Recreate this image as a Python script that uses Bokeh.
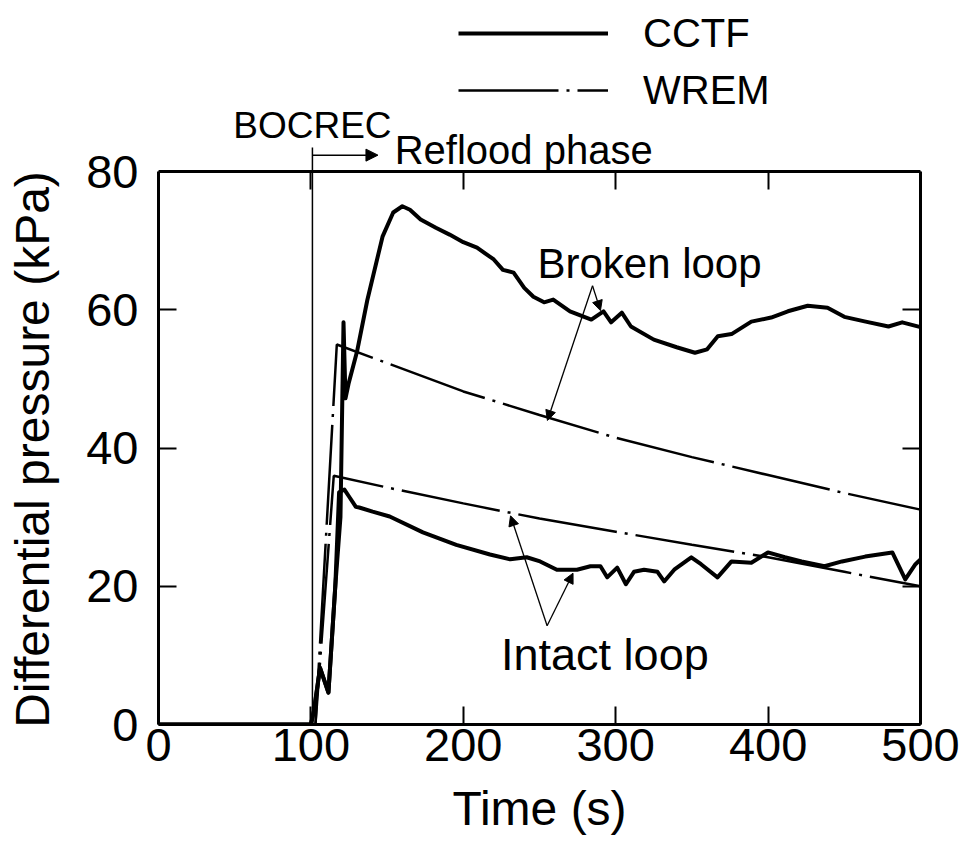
from bokeh.plotting import figure
from bokeh.layouts import row
from bokeh.models import (Range1d, LinearAxis, FixedTicker, Arrow, NormalHead,
                          Label, Legend, LegendItem)
from bokeh.embed import file_html
from bokeh.resources import INLINE

# ---------------- data ----------------
cctf_broken_t = [0, 100, 102, 106, 111.5, 116, 119.4, 121.4, 122.7, 124.7, 130.4, 137, 147,
                 154, 160, 165, 172, 182, 191, 200, 209, 220, 226, 233, 240, 246, 253, 259,
                 270, 284, 292, 297, 304, 310, 325, 340, 352, 360, 367, 376, 389, 402, 413,
                 426, 439, 450, 464, 479, 488, 500]
cctf_broken_v = [0, 0, 2, 8.2, 4.6, 20, 30, 58.2, 47.2, 49.3, 54.1, 61.4, 70.6,
                 74.1, 75.0, 74.5, 73.1, 71.9, 70.9, 69.8, 69.0, 67.3, 65.8, 65.4, 63.2, 61.9,
                 61.1, 61.5, 59.8, 58.6, 59.8, 58.2, 59.6, 57.6, 55.7, 54.6, 53.8, 54.3, 56.2,
                 56.5, 58.3, 58.9, 59.8, 60.6, 60.3, 59.0, 58.3, 57.6, 58.2, 57.5]

cctf_intact_t = [0, 100, 102, 106, 111.5, 116, 118.5, 122, 125, 129.5, 131.7, 140.5, 151.7,
                 173.5, 195.4, 217.5, 230.8, 241.6, 250.4, 261.4, 274.6, 283.4, 290, 294.4,
                 301, 306.7, 312, 318.6, 327.4, 331.8, 338.4, 349.6, 356, 366.8, 376, 389,
                 399.9, 411, 422, 437, 448.5, 463.7, 481.5, 490, 496.7, 500]
cctf_intact_v = [0, 0, 2, 8.2, 4.6, 20, 33.6, 34.0, 33.0, 31.5, 31.4, 30.8, 30.1,
                 27.8, 26.0, 24.6, 23.9, 24.2, 23.6, 22.4, 22.4, 22.9, 22.9, 21.3,
                 22.7, 20.3, 22.1, 22.4, 22.1, 20.7, 22.4, 24.2, 23.2, 21.3, 23.6, 23.4,
                 24.9, 24.2, 23.6, 22.9, 23.6, 24.3, 24.9, 21.0, 23.2, 23.9]

wrem_broken_t = [0, 103, 117, 150, 200, 250, 300, 350, 400, 450, 500]
wrem_broken_v = [0, 0, 55.0, 52.3, 48.2, 44.8, 41.5, 38.7, 36.1, 33.5, 31.1]

wrem_intact_t = [0, 103, 115, 150, 200, 250, 300, 350, 400, 450, 500]
wrem_intact_v = [0, 0, 36.0, 34.3, 32.0, 29.8, 27.9, 26.0, 24.2, 22.1, 20.0]

x_ticks = [0, 100, 200, 300, 400, 500]
y_ticks = [0, 20, 40, 60, 80]
series_names = ["CCTF", "WREM"]
x_min, x_max = 0, 500
y_min, y_max = 0, 80
bocrec_t = 101

FONT = "Liberation Sans"
CCTF_STYLE = dict(line_color="black", line_width=4, line_join="round")
WREM_STYLE = dict(line_color="black", line_width=2.5, line_dash="100 8 3 8")

# ---------------- main figure ----------------
# the frame reaches the top of the page so that the texts above the box are drawn too;
# the visible box itself is 0..80 kPa
p = figure(width=886, height=842, x_range=Range1d(x_min, x_max), y_range=Range1d(0, 104.78),
           output_backend="svg", toolbar_location=None,
           min_border_left=78, min_border_right=46, min_border_top=0, min_border_bottom=118,
           background_fill_color="white", border_fill_color="white")
p.outline_line_color = None
p.xgrid.grid_line_color = None
p.ygrid.grid_line_color = None

def style_axis(ax, labels=True):
    ax.axis_line_width = 3
    ax.axis_line_color = "black"
    ax.major_tick_in = 18
    ax.major_tick_out = 0
    ax.major_tick_line_width = 2
    ax.minor_tick_line_color = None
    if labels:
        ax.major_label_text_font = FONT
        ax.major_label_text_font_size = "47px"
        ax.major_label_text_color = "black"
    else:
        ax.major_label_text_font_size = "1px"
        ax.major_label_text_color = None
        ax.major_label_standoff = 0

xa = p.xaxis[0]
ya = p.yaxis[0]
xa.ticker = FixedTicker(ticks=x_ticks)
ya.ticker = FixedTicker(ticks=y_ticks)
ya.bounds = (y_min, y_max)
style_axis(xa)
style_axis(ya)
xa.major_label_standoff = 4
ya.major_label_standoff = 20
xa.axis_label = "Time (s)"
xa.axis_label_text_font = FONT
xa.axis_label_text_font_size = "48px"
xa.axis_label_text_font_style = "normal"
xa.axis_label_text_color = "black"
xa.axis_label_standoff = 18

top_ax = LinearAxis(ticker=FixedTicker(ticks=x_ticks), fixed_location=y_max)
right_ax = LinearAxis(ticker=FixedTicker(ticks=y_ticks), bounds=(y_min, y_max))
style_axis(top_ax, labels=False)
style_axis(right_ax, labels=False)
p.add_layout(top_ax, "above")
p.add_layout(right_ax, "right")

# curves
r_cb = p.line(cctf_broken_t, cctf_broken_v, **CCTF_STYLE)
r_ci = p.line(cctf_intact_t, cctf_intact_v, **CCTF_STYLE)
r_wb = p.line(wrem_broken_t, wrem_broken_v, **WREM_STYLE)
r_wi = p.line(wrem_intact_t, wrem_intact_v, **WREM_STYLE)

legend = Legend(items=[LegendItem(label=series_names[0], renderers=[r_cb]),
                       LegendItem(label=series_names[1], renderers=[r_wb])],
                location=(300, 611), orientation="vertical",
                glyph_width=150, glyph_height=46, label_height=46, label_standoff=35,
                spacing=11, padding=0, margin=0, border_line_color=None,
                background_fill_alpha=0,
                label_text_font=FONT, label_text_font_size="40px", label_text_color="black")
p.add_layout(legend, "center")

def lbl(fig, x, y, text, size, align="center", angle=0):
    fig.add_layout(Label(x=x, y=y, text=text, text_font=FONT, text_font_size=size,
                         text_align=align, text_baseline="alphabetic", text_color="black",
                         angle=angle, angle_units="deg"))

lbl(p, 326, 66.7, "Broken  loop", "42px")
lbl(p, 297, 10.1, "Intact  loop", "45px")
lbl(p, bocrec_t, 86.7, "BOCREC", "37px")
lbl(p, 155, 83.2, "Reflood  phase", "40px", align="left")

# BOCREC line (from the axis up past the box) and the arrow of the reflood phase
p.add_layout(Arrow(x_start=bocrec_t, y_start=y_min, x_end=bocrec_t, y_end=83.5, end=None,
                   line_color="black", line_width=1.5))
p.add_layout(Arrow(x_start=bocrec_t, y_start=82.4, x_end=144, y_end=82.4,
                   end=NormalHead(size=12, fill_color="black", line_color="black"),
                   line_color="black", line_width=1.5))

def pointer(fig, x0, y0, x1, y1):
    fig.add_layout(Arrow(x_start=x0, y_start=y0, x_end=x1, y_end=y1,
                         end=NormalHead(size=10, fill_color="black", line_color="black",
                                        line_width=1),
                         line_color="black", line_width=1.3))

pointer(p, 284.8, 63.5, 290, 59.9)
pointer(p, 284.8, 63.5, 255.2, 44.0)
pointer(p, 255, 14.3, 231, 30.2)
pointer(p, 255, 14.3, 272, 21.9)

# ---------------- y-axis title strip ----------------
# (in a row its frame is aligned with the main frame: 724 px tall)
ylab = figure(width=80, height=842, x_range=Range1d(0, 80), y_range=Range1d(0, 724),
              output_backend="svg", toolbar_location=None,
              x_axis_location=None, y_axis_location=None,
              min_border_left=0, min_border_right=0, min_border_top=0, min_border_bottom=0,
              background_fill_color="white", border_fill_color="white")
ylab.outline_line_color = None
ylab.grid.visible = False
lbl(ylab, 32, 275, "Differential pressure (kPa)", "48px", angle=90)

layout = row(ylab, p, spacing=0)
open("out.html", "w").write(file_html(layout, INLINE))
